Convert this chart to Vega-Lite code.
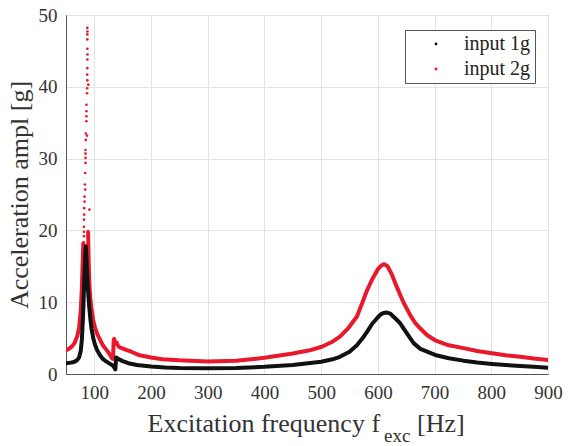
{
 "$schema": "https://vega.github.io/schema/vega-lite/v6.json",
 "width": 482,
 "height": 359,
 "autosize": {"type": "none"},
 "padding": {"left": 66, "top": 15, "right": 20, "bottom": 72},
 "background": "white",
 "config": {
  "font": "Liberation Serif",
  "view": {"stroke": "#555555", "strokeWidth": 1},
  "axis": {
   "domainColor": "#555555",
   "gridColor": "#e3e3e3",
   "gridWidth": 1,
   "ticks": false,
   "labelFlush": false,
   "labelFont": "Liberation Serif",
   "labelFontSize": 19,
   "labelColor": "#333333",
   "titleFont": "Liberation Serif",
   "titleFontSize": 26,
   "titleFontWeight": "normal",
   "titleColor": "#333333"
  }
 },
 "datasets": {
  "curves": [
   {"series": "input 1g", "seg": "b1", "f": 50, "a": 1.5},
   {"series": "input 1g", "seg": "b1", "f": 55, "a": 1.55},
   {"series": "input 1g", "seg": "b1", "f": 60, "a": 1.6},
   {"series": "input 1g", "seg": "b1", "f": 65, "a": 1.7},
   {"series": "input 1g", "seg": "b1", "f": 70, "a": 1.95},
   {"series": "input 1g", "seg": "b1", "f": 73, "a": 2.3},
   {"series": "input 1g", "seg": "b1", "f": 76, "a": 3.2},
   {"series": "input 1g", "seg": "b1", "f": 78, "a": 4.8},
   {"series": "input 1g", "seg": "b1", "f": 80, "a": 8.0},
   {"series": "input 1g", "seg": "b1", "f": 82, "a": 12.5},
   {"series": "input 1g", "seg": "b1", "f": 84, "a": 16.5},
   {"series": "input 1g", "seg": "b1", "f": 85, "a": 17.8},
   {"series": "input 1g", "seg": "b1", "f": 86, "a": 16.0},
   {"series": "input 1g", "seg": "b1", "f": 87.5, "a": 13.5},
   {"series": "input 1g", "seg": "b1", "f": 89, "a": 11.5},
   {"series": "input 1g", "seg": "b1", "f": 91, "a": 9.3},
   {"series": "input 1g", "seg": "b1", "f": 93, "a": 7.6},
   {"series": "input 1g", "seg": "b1", "f": 95, "a": 6.3},
   {"series": "input 1g", "seg": "b1", "f": 98, "a": 5.0},
   {"series": "input 1g", "seg": "b1", "f": 101, "a": 4.1},
   {"series": "input 1g", "seg": "b1", "f": 105, "a": 3.3},
   {"series": "input 1g", "seg": "b1", "f": 110, "a": 2.6},
   {"series": "input 1g", "seg": "b1", "f": 115, "a": 2.1},
   {"series": "input 1g", "seg": "b1", "f": 120, "a": 1.8},
   {"series": "input 1g", "seg": "b1", "f": 125, "a": 1.55},
   {"series": "input 1g", "seg": "b1", "f": 130, "a": 1.3},
   {"series": "input 1g", "seg": "b1", "f": 133, "a": 1.15},
   {"series": "input 1g", "seg": "b1", "f": 135, "a": 0.9},
   {"series": "input 1g", "seg": "b1", "f": 137, "a": 0.65},
   {"series": "input 1g", "seg": "b1", "f": 138.5, "a": 2.3},
   {"series": "input 1g", "seg": "b1", "f": 142, "a": 2.1},
   {"series": "input 1g", "seg": "b1", "f": 150, "a": 1.8},
   {"series": "input 1g", "seg": "b1", "f": 160, "a": 1.5},
   {"series": "input 1g", "seg": "b1", "f": 175, "a": 1.25},
   {"series": "input 1g", "seg": "b1", "f": 200, "a": 1.05},
   {"series": "input 1g", "seg": "b1", "f": 225, "a": 0.92},
   {"series": "input 1g", "seg": "b1", "f": 250, "a": 0.85},
   {"series": "input 1g", "seg": "b1", "f": 300, "a": 0.8},
   {"series": "input 1g", "seg": "b1", "f": 350, "a": 0.85},
   {"series": "input 1g", "seg": "b1", "f": 400, "a": 1.0},
   {"series": "input 1g", "seg": "b1", "f": 450, "a": 1.25},
   {"series": "input 1g", "seg": "b1", "f": 500, "a": 1.7},
   {"series": "input 1g", "seg": "b1", "f": 520, "a": 2.05},
   {"series": "input 1g", "seg": "b1", "f": 533, "a": 2.4},
   {"series": "input 1g", "seg": "b1", "f": 550, "a": 3.1},
   {"series": "input 1g", "seg": "b1", "f": 563, "a": 4.0},
   {"series": "input 1g", "seg": "b1", "f": 575, "a": 5.2},
   {"series": "input 1g", "seg": "b1", "f": 582, "a": 6.0},
   {"series": "input 1g", "seg": "b1", "f": 590, "a": 7.0},
   {"series": "input 1g", "seg": "b1", "f": 600, "a": 7.9},
   {"series": "input 1g", "seg": "b1", "f": 605, "a": 8.3},
   {"series": "input 1g", "seg": "b1", "f": 610, "a": 8.5},
   {"series": "input 1g", "seg": "b1", "f": 616, "a": 8.55},
   {"series": "input 1g", "seg": "b1", "f": 622, "a": 8.4},
   {"series": "input 1g", "seg": "b1", "f": 630, "a": 7.8},
   {"series": "input 1g", "seg": "b1", "f": 639, "a": 7.1},
   {"series": "input 1g", "seg": "b1", "f": 650, "a": 5.8},
   {"series": "input 1g", "seg": "b1", "f": 663, "a": 4.3},
   {"series": "input 1g", "seg": "b1", "f": 675, "a": 3.5},
   {"series": "input 1g", "seg": "b1", "f": 690, "a": 3.0},
   {"series": "input 1g", "seg": "b1", "f": 701, "a": 2.65},
   {"series": "input 1g", "seg": "b1", "f": 725, "a": 2.2},
   {"series": "input 1g", "seg": "b1", "f": 751, "a": 1.86},
   {"series": "input 1g", "seg": "b1", "f": 775, "a": 1.6},
   {"series": "input 1g", "seg": "b1", "f": 801, "a": 1.4},
   {"series": "input 1g", "seg": "b1", "f": 825, "a": 1.25},
   {"series": "input 1g", "seg": "b1", "f": 851, "a": 1.1},
   {"series": "input 1g", "seg": "b1", "f": 875, "a": 1.0},
   {"series": "input 1g", "seg": "b1", "f": 900, "a": 0.88},
   {"series": "input 2g", "seg": "r1", "f": 50, "a": 3.3},
   {"series": "input 2g", "seg": "r1", "f": 55, "a": 3.5},
   {"series": "input 2g", "seg": "r1", "f": 60, "a": 3.8},
   {"series": "input 2g", "seg": "r1", "f": 65, "a": 4.3},
   {"series": "input 2g", "seg": "r1", "f": 70, "a": 5.3},
   {"series": "input 2g", "seg": "r1", "f": 73, "a": 6.4},
   {"series": "input 2g", "seg": "r1", "f": 76, "a": 8.8},
   {"series": "input 2g", "seg": "r1", "f": 78, "a": 12.0},
   {"series": "input 2g", "seg": "r1", "f": 79, "a": 14.5},
   {"series": "input 2g", "seg": "r1", "f": 80, "a": 17.0},
   {"series": "input 2g", "seg": "r1", "f": 80.5, "a": 18.2},
   {"series": "input 2g", "seg": "r2", "f": 89, "a": 19.7},
   {"series": "input 2g", "seg": "r2", "f": 90, "a": 15.5},
   {"series": "input 2g", "seg": "r2", "f": 91, "a": 12.8},
   {"series": "input 2g", "seg": "r2", "f": 93, "a": 10.5},
   {"series": "input 2g", "seg": "r2", "f": 95, "a": 9.0},
   {"series": "input 2g", "seg": "r2", "f": 98, "a": 7.5},
   {"series": "input 2g", "seg": "r2", "f": 101, "a": 6.5},
   {"series": "input 2g", "seg": "r2", "f": 105, "a": 5.6},
   {"series": "input 2g", "seg": "r2", "f": 110, "a": 4.8},
   {"series": "input 2g", "seg": "r2", "f": 115, "a": 4.0},
   {"series": "input 2g", "seg": "r2", "f": 120, "a": 3.5},
   {"series": "input 2g", "seg": "r2", "f": 125, "a": 3.0},
   {"series": "input 2g", "seg": "r2", "f": 128, "a": 2.6},
   {"series": "input 2g", "seg": "r2", "f": 131, "a": 2.2},
   {"series": "input 2g", "seg": "r2", "f": 133, "a": 2.1},
   {"series": "input 2g", "seg": "r2", "f": 134, "a": 4.6},
   {"series": "input 2g", "seg": "r2", "f": 135, "a": 4.9},
   {"series": "input 2g", "seg": "r2", "f": 136.5, "a": 4.2},
   {"series": "input 2g", "seg": "r2", "f": 139, "a": 4.4},
   {"series": "input 2g", "seg": "r2", "f": 142, "a": 3.9},
   {"series": "input 2g", "seg": "r2", "f": 145, "a": 3.7},
   {"series": "input 2g", "seg": "r2", "f": 155, "a": 3.4},
   {"series": "input 2g", "seg": "r2", "f": 165, "a": 3.1},
   {"series": "input 2g", "seg": "r2", "f": 180, "a": 2.6},
   {"series": "input 2g", "seg": "r2", "f": 200, "a": 2.3},
   {"series": "input 2g", "seg": "r2", "f": 220, "a": 2.05},
   {"series": "input 2g", "seg": "r2", "f": 250, "a": 1.9},
   {"series": "input 2g", "seg": "r2", "f": 300, "a": 1.75},
   {"series": "input 2g", "seg": "r2", "f": 350, "a": 1.85},
   {"series": "input 2g", "seg": "r2", "f": 400, "a": 2.25},
   {"series": "input 2g", "seg": "r2", "f": 450, "a": 2.85},
   {"series": "input 2g", "seg": "r2", "f": 480, "a": 3.3},
   {"series": "input 2g", "seg": "r2", "f": 501, "a": 3.8},
   {"series": "input 2g", "seg": "r2", "f": 520, "a": 4.5},
   {"series": "input 2g", "seg": "r2", "f": 533, "a": 5.2},
   {"series": "input 2g", "seg": "r2", "f": 548, "a": 6.4},
   {"series": "input 2g", "seg": "r2", "f": 563, "a": 8.0},
   {"series": "input 2g", "seg": "r2", "f": 572, "a": 9.8},
   {"series": "input 2g", "seg": "r2", "f": 580, "a": 11.5},
   {"series": "input 2g", "seg": "r2", "f": 590, "a": 13.2},
   {"series": "input 2g", "seg": "r2", "f": 600, "a": 14.6},
   {"series": "input 2g", "seg": "r2", "f": 606, "a": 15.1},
   {"series": "input 2g", "seg": "r2", "f": 611, "a": 15.3},
   {"series": "input 2g", "seg": "r2", "f": 617, "a": 15.0},
   {"series": "input 2g", "seg": "r2", "f": 625, "a": 13.8},
   {"series": "input 2g", "seg": "r2", "f": 633, "a": 12.2},
   {"series": "input 2g", "seg": "r2", "f": 645, "a": 10.0},
   {"series": "input 2g", "seg": "r2", "f": 657, "a": 8.2},
   {"series": "input 2g", "seg": "r2", "f": 665, "a": 7.2},
   {"series": "input 2g", "seg": "r2", "f": 674, "a": 6.4},
   {"series": "input 2g", "seg": "r2", "f": 687, "a": 5.4},
   {"series": "input 2g", "seg": "r2", "f": 701, "a": 4.7},
   {"series": "input 2g", "seg": "r2", "f": 725, "a": 4.0},
   {"series": "input 2g", "seg": "r2", "f": 751, "a": 3.6},
   {"series": "input 2g", "seg": "r2", "f": 775, "a": 3.2},
   {"series": "input 2g", "seg": "r2", "f": 801, "a": 2.9},
   {"series": "input 2g", "seg": "r2", "f": 825, "a": 2.6},
   {"series": "input 2g", "seg": "r2", "f": 851, "a": 2.4},
   {"series": "input 2g", "seg": "r2", "f": 875, "a": 2.15},
   {"series": "input 2g", "seg": "r2", "f": 900, "a": 1.95}
  ],
  "scatter": [
   {"series": "input 2g", "f": 87.6, "a": 48.2},
   {"series": "input 2g", "f": 87.9, "a": 47.7},
   {"series": "input 2g", "f": 87.6, "a": 47.3},
   {"series": "input 2g", "f": 87.6, "a": 46.6},
   {"series": "input 2g", "f": 87.6, "a": 45.3},
   {"series": "input 2g", "f": 87.9, "a": 44.5},
   {"series": "input 2g", "f": 87.6, "a": 43.8},
   {"series": "input 2g", "f": 87.6, "a": 42.6},
   {"series": "input 2g", "f": 87.3, "a": 41.7},
   {"series": "input 2g", "f": 87.6, "a": 40.9},
   {"series": "input 2g", "f": 89.4, "a": 40.3},
   {"series": "input 2g", "f": 87.3, "a": 39.8},
   {"series": "input 2g", "f": 87.0, "a": 39.1},
   {"series": "input 2g", "f": 86.1, "a": 37.5},
   {"series": "input 2g", "f": 86.1, "a": 36.6},
   {"series": "input 2g", "f": 86.1, "a": 35.9},
   {"series": "input 2g", "f": 86.1, "a": 35.2},
   {"series": "input 2g", "f": 85.0, "a": 33.5},
   {"series": "input 2g", "f": 87.0, "a": 33.2},
   {"series": "input 2g", "f": 85.0, "a": 32.6},
   {"series": "input 2g", "f": 84.4, "a": 31.2},
   {"series": "input 2g", "f": 84.4, "a": 30.7},
   {"series": "input 2g", "f": 84.4, "a": 30.1},
   {"series": "input 2g", "f": 84.4, "a": 29.4},
   {"series": "input 2g", "f": 83.9, "a": 28.0},
   {"series": "input 2g", "f": 83.3, "a": 26.4},
   {"series": "input 2g", "f": 83.9, "a": 25.7},
   {"series": "input 2g", "f": 82.7, "a": 24.7},
   {"series": "input 2g", "f": 82.7, "a": 24.0},
   {"series": "input 2g", "f": 91.3, "a": 22.9},
   {"series": "input 2g", "f": 82.1, "a": 23.1},
   {"series": "input 2g", "f": 82.1, "a": 22.2},
   {"series": "input 2g", "f": 81.6, "a": 21.5},
   {"series": "input 2g", "f": 81.6, "a": 20.5},
   {"series": "input 2g", "f": 81.6, "a": 19.8},
   {"series": "input 2g", "f": 80.5, "a": 13.5},
   {"series": "input 2g", "f": 80.8, "a": 14.5},
   {"series": "input 2g", "f": 81.0, "a": 15.5},
   {"series": "input 2g", "f": 81.2, "a": 16.3},
   {"series": "input 2g", "f": 81.3, "a": 17.2},
   {"series": "input 2g", "f": 81.5, "a": 18.3},
   {"series": "input 2g", "f": 81.7, "a": 19.2},
   {"series": "input 2g", "f": 88.7, "a": 19.9},
   {"series": "input 2g", "f": 89.0, "a": 19.5},
   {"series": "input 2g", "f": 89.3, "a": 18.8},
   {"series": "input 2g", "f": 89.5, "a": 18.0},
   {"series": "input 2g", "f": 89.6, "a": 17.2},
   {"series": "input 2g", "f": 89.8, "a": 16.5},
   {"series": "input 2g", "f": 90.0, "a": 15.8},
   {"series": "input 2g", "f": 90.2, "a": 15.0},
   {"series": "input 2g", "f": 90.4, "a": 14.2},
   {"series": "input 2g", "f": 83.5, "a": 16.5},
   {"series": "input 2g", "f": 84.0, "a": 15.5},
   {"series": "input 2g", "f": 86.5, "a": 15.0},
   {"series": "input 2g", "f": 87.0, "a": 14.0},
   {"series": "input 2g", "f": 83.0, "a": 14.2},
   {"series": "input 2g", "f": 86.0, "a": 16.8}
  ]
 },
 "layer": [
  {
   "data": {"name": "curves"},
   "transform": [{"filter": {"field": "series", "equal": "input 2g"}}],
   "mark": {"type": "line", "strokeWidth": 4, "strokeJoin": "round", "strokeCap": "round", "clip": true},
   "encoding": {
    "x": {
     "field": "f", "type": "quantitative",
     "scale": {"domain": [50, 900], "nice": false, "zero": false},
     "axis": {
      "values": [100, 200, 300, 400, 500, 600, 700, 800, 900],
      "labelPadding": 9,
      "title": null
     }
    },
    "y": {
     "field": "a", "type": "quantitative",
     "scale": {"domain": [0, 50], "nice": false, "zero": false},
     "axis": {
      "values": [0, 10, 20, 30, 40, 50],
      "labelPadding": 9,
      "title": "Acceleration ampl [g]",
      "titlePadding": 6
     }
    },
    "color": {
     "field": "series", "type": "nominal",
     "scale": {"domain": ["input 1g", "input 2g"], "range": ["#111111", "#e8192c"]},
     "legend": {
      "title": null,
      "orient": "none",
      "legendX": 339,
      "legendY": 15,
      "symbolType": "circle",
      "symbolSize": 8,
      "symbolStrokeWidth": 0,
      "symbolOffset": 17,
      "labelOffset": 18,
      "labelExpr": "datum.label + '\u00a0'",
      "labelFont": "Liberation Serif",
      "labelFontSize": 20,
      "labelColor": "#222222",
      "padding": 4,
      "rowPadding": 5,
      "strokeColor": "#555555",
      "fillColor": "white",
      "encode": {"symbols": {"update": {"fill": {"scale": "color", "field": "value"}, "stroke": {"value": "transparent"}}}}
     }
    },
    "detail": {"field": "seg", "type": "nominal"}
   }
  },
  {
   "data": {"name": "scatter"},
   "mark": {"type": "circle", "size": 7, "opacity": 1},
   "encoding": {
    "x": {"field": "f", "type": "quantitative"},
    "y": {"field": "a", "type": "quantitative"},
    "color": {"field": "series", "type": "nominal"}
   }
  },
  {
   "data": {"name": "curves"},
   "transform": [{"filter": {"field": "series", "equal": "input 1g"}}],
   "mark": {"type": "line", "strokeWidth": 4, "strokeJoin": "round", "strokeCap": "round", "clip": true},
   "encoding": {
    "x": {"field": "f", "type": "quantitative"},
    "y": {"field": "a", "type": "quantitative"},
    "color": {"field": "series", "type": "nominal"},
    "detail": {"field": "seg", "type": "nominal"}
   }
  },
  {
   "data": {"values": [{"f": 603.8, "a": -6.97, "t": "Excitation frequency f"}]},
   "mark": {"type": "text", "fontSize": 26, "font": "Liberation Serif", "color": "#333333", "baseline": "middle", "align": "right"},
   "encoding": {
    "x": {"field": "f", "type": "quantitative"},
    "y": {"field": "a", "type": "quantitative"},
    "text": {"field": "t"}
   }
  },
  {
   "data": {"values": [{"f": 669.0, "a": -6.97, "t": "[Hz]"}]},
   "mark": {"type": "text", "fontSize": 26, "font": "Liberation Serif", "color": "#333333", "baseline": "middle", "align": "left"},
   "encoding": {
    "x": {"field": "f", "type": "quantitative"},
    "y": {"field": "a", "type": "quantitative"},
    "text": {"field": "t"}
   }
  },
  {
   "data": {"values": [{"f": 611.0, "a": -8.65, "t": "exc"}]},
   "mark": {"type": "text", "fontSize": 19, "font": "Liberation Serif", "color": "#333333", "baseline": "middle", "align": "left"},
   "encoding": {
    "x": {"field": "f", "type": "quantitative"},
    "y": {"field": "a", "type": "quantitative"},
    "text": {"field": "t"}
   }
  }
 ]
}
